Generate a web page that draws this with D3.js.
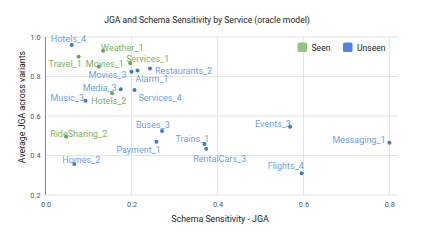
<!DOCTYPE html>
<html lang="en">
<head>
    <meta charset="UTF-8">
    <title>JGA and Schema Sensitivity by Service</title>
    <style>
        body { margin: 0; background: #fff; }
        text { font-family: Roboto, Arial, sans-serif; }
    </style>
</head>
<body>

<script src="https://d3js.org/d3.v7.min.js"></script>

<div id="my_dataviz"></div>

<script>
    // data
    const services = ["Hotels_4", "Travel_1", "Weather_1", "Movies_1", "Services_1", "Movies_3", "Alarm_1",
      "Restaurants_2", "Media_3", "Services_4", "Hotels_2", "Music_3", "RideSharing_2", "Homes_2",
      "Buses_3", "Payment_1", "Trains_1", "RentalCars_3", "Events_3", "Messaging_1", "Flights_4"];
    const groups = ["Unseen", "Seen", "Seen", "Seen", "Seen", "Unseen", "Unseen",
      "Unseen", "Unseen", "Unseen", "Seen", "Unseen", "Seen", "Unseen",
      "Unseen", "Unseen", "Unseen", "Unseen", "Unseen", "Unseen", "Unseen"];
    const sensitivity = [0.061, 0.077, 0.134, 0.124, 0.197, 0.200, 0.214,
      0.243, 0.175, 0.207, 0.155, 0.093, 0.048, 0.067,
      0.271, 0.258, 0.370, 0.374, 0.569, 0.800, 0.596];
    const avgJGA = [0.960, 0.900, 0.930, 0.850, 0.867, 0.824, 0.831,
      0.840, 0.735, 0.732, 0.715, 0.677, 0.495, 0.357,
      0.524, 0.470, 0.458, 0.434, 0.546, 0.465, 0.310];
    const xTicks = [0, 0.2, 0.4, 0.6, 0.8];
    const yTicks = [0.2, 0.4, 0.6, 0.8, 1.0];
    const legendItems = ["Seen", "Unseen"];

    // where each label sits relative to its dot (dx to text start, dy to baseline)
    const labelOffset = {
      "Hotels_4": [-21, -3], "Travel_1": [-30, 10], "Weather_1": [-2, 0], "Movies_1": [-13, 0],
      "Services_1": [-4, -1], "Movies_3": [-43, 6], "Alarm_1": [-2, 12], "Restaurants_2": [5, 5],
      "Media_3": [-38, 2], "Services_4": [4, 11], "Hotels_2": [-21, 11], "Music_3": [-35, 0],
      "RideSharing_2": [-16, 0], "Homes_2": [-12, -1], "Buses_3": [-26, -3], "Payment_1": [-40, 11],
      "Trains_1": [-29, -2], "RentalCars_3": [-13, 13], "Events_3": [-35, 0], "Messaging_1": [-57, 0],
      "Flights_4": [-34, -4]
    };

    const dotColor = {Seen: "#6aa84f", Unseen: "#3c78d8"};
    const textColor = {Seen: "#7cb061", Unseen: "#6d9eeb"};
    const legendColor = {Seen: "#93c47d", Unseen: "#4a86e8"};

    const W = 423, H = 242;
    const margin = {top: 37, right: 25, bottom: 47, left: 45.5};
    const width = 398 - margin.left;
    const height = 195 - margin.top;

    const root = d3.select("#my_dataviz")
      .append("svg")
        .attr("width", W)
        .attr("height", H);

    const svg = root.append("g")
        .attr("transform", `translate(${margin.left},${margin.top})`);

    const x = d3.scaleLinear()
      .domain([0, 0.82])
      .range([0, width]);

    const y = d3.scaleLinear()
      .domain([0.2, 1.0])
      .range([height, 0]);

    // title
    root.append("text")
      .attr("x", 207)
      .attr("y", 23)
      .attr("text-anchor", "middle")
      .style("font-size", "8.6px")
      .style("fill", "#222")
      .text("JGA and Schema Sensitivity by Service (oracle model)");

    // gridlines
    svg.append("g")
      .selectAll("line")
      .data(yTicks)
      .join("line")
        .attr("x1", 0)
        .attr("x2", width)
        .attr("y1", d => y(d))
        .attr("y2", d => y(d))
        .style("stroke", "#e3e3e3")
        .style("stroke-width", 1);

    svg.append("g")
      .selectAll("line")
      .data(xTicks.slice(1))
      .join("line")
        .attr("x1", d => x(d))
        .attr("x2", d => x(d))
        .attr("y1", 0)
        .attr("y2", height)
        .style("stroke", "#e3e3e3")
        .style("stroke-width", 1);

    // axes
    const xAxis = svg.append("g")
      .attr("transform", `translate(0, ${height})`)
      .call(d3.axisBottom(x).tickValues(xTicks).tickFormat(d3.format(".1f")).tickSize(0).tickPadding(7));
    xAxis.select(".domain").remove();

    const yAxis = svg.append("g")
      .call(d3.axisLeft(y).tickValues(yTicks).tickFormat(d3.format(".1f")).tickSize(0).tickPadding(5));
    yAxis.select(".domain").remove();

    [xAxis, yAxis].forEach(a => a.selectAll("text")
      .style("font-family", "Roboto, Arial, sans-serif")
      .style("font-size", "7.3px")
      .style("fill", "#555"));

    svg.append("line")
      .attr("x1", 0).attr("x2", 0)
      .attr("y1", 0).attr("y2", height)
      .style("stroke", "#888")
      .style("stroke-width", 1);

    // axis titles
    root.append("text")
      .attr("x", 220)
      .attr("y", 222)
      .attr("text-anchor", "middle")
      .style("font-size", "8.8px")
      .style("fill", "#222")
      .text("Schema Sensitivity - JGA");

    root.append("text")
      .attr("transform", "translate(24.5, 107) rotate(-90)")
      .attr("text-anchor", "middle")
      .style("font-size", "8.8px")
      .style("fill", "#222")
      .text("Average JGA across variants");

    const data = services.map((s, i) => ({name: s, group: groups[i], sx: sensitivity[i], jga: avgJGA[i]}));

    // labels
    svg.append("g")
      .selectAll("text")
      .data(data)
      .join("text")
        .attr("x", d => x(d.sx) + labelOffset[d.name][0])
        .attr("y", d => y(d.jga) + labelOffset[d.name][1])
        .style("font-size", "9px")
        .style("fill", d => textColor[d.group])
        .text(d => d.name);

    // dots
    svg.append("g")
      .selectAll("circle")
      .data(data)
      .join("circle")
        .attr("cx", d => x(d.sx))
        .attr("cy", d => y(d.jga))
        .attr("r", 2)
        .style("fill", d => dotColor[d.group]);

    // legend
    const legend = root.append("g")
      .selectAll("g")
      .data(legendItems)
      .join("g")
        .attr("transform", (d, i) => `translate(${297.5 + i * 45.5}, 42.5)`);

    legend.append("rect")
      .attr("width", 9.5)
      .attr("height", 9.5)
      .attr("rx", 1.5)
      .style("fill", d => legendColor[d]);

    legend.append("text")
      .attr("x", 14)
      .attr("y", 8)
      .style("font-size", "8.6px")
      .style("fill", "#222")
      .text(d => d);
</script>

</body>
</html>
